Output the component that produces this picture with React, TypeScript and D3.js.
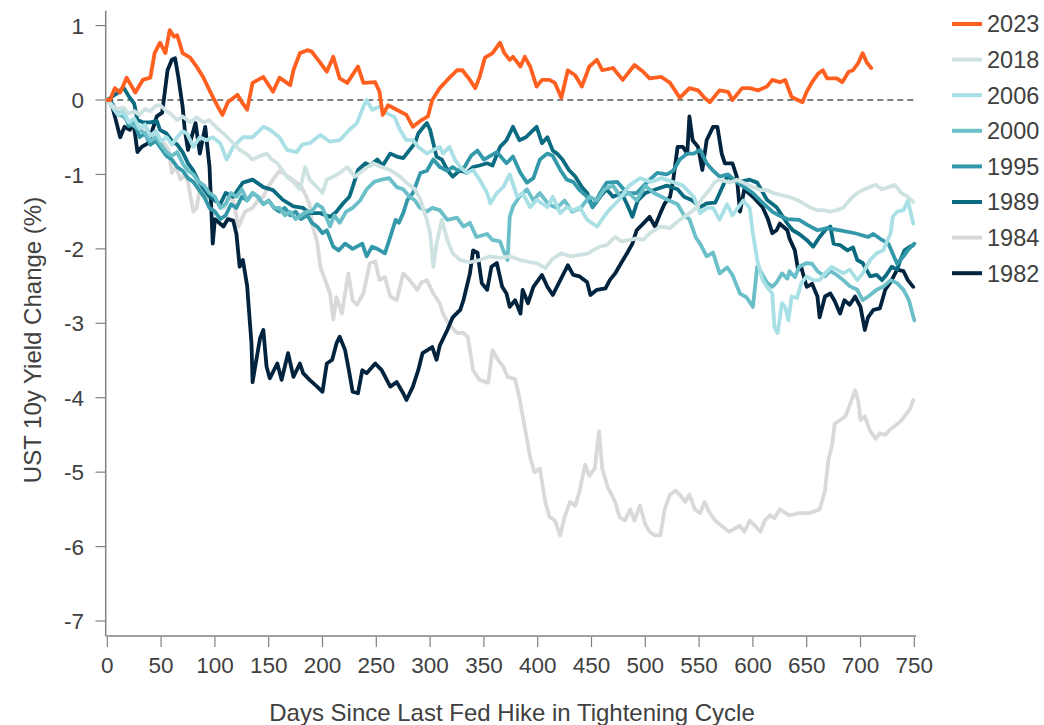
import React from "react";
import * as d3 from "d3";

type Pt = [number, number];

const s2023: Pt[] = [[0,0],[2.5,0],[7,0.16],[12,0.1],[18,0.3],[22,0.2],[26,0.1],[33,0.27],[40,0.3],[44,0.63],[49,0.77],[54,0.63],[58,0.94],[62,0.85],[65,0.87],[70,0.63],[77,0.57],[83,0.45],[89,0.31],[95,0.13],[102,-0.07],[107,-0.2],[112,-0.03],[121,0.07],[126,-0.05],[130,-0.13],[135,0.23],[145,0.31],[154,0.11],[160,0.3],[170,0.2],[173,0.4],[179,0.63],[186,0.67],[190,0.65],[198,0.5],[204,0.38],[210,0.58],[216,0.29],[223,0.23],[233,0.45],[238,0.23],[249,0.24],[253,0.11],[256,-0.2],[261,-0.07],[269,-0.13],[278,-0.2],[284,-0.36],[292,-0.27],[298,-0.22],[302,0],[309,0.16],[316,0.27],[325,0.4],[330,0.4],[337,0.27],[342,0.16],[346,0.31],[351,0.57],[358,0.63],[365,0.77],[369,0.63],[374,0.54],[377,0.58],[384,0.45],[388,0.58],[393,0.45],[399,0.18],[404,0.27],[411,0.27],[416,0.23],[422,0.03],[428,0.4],[435,0.33],[441,0.18],[448,0.45],[455,0.54],[460,0.4],[470,0.43],[479,0.27],[490,0.47],[498,0.38],[504,0.29],[515,0.31],[523,0.23],[532,0.03],[541,0.16],[549,0.13],[555,0.03],[560,-0.03],[569,0.13],[577,0.11],[581,0],[590,0.16],[597,0.16],[605,0.13],[613,0.18],[618,0.27],[625,0.24],[630,0.27],[636,0.04],[646,-0.03],[650,0.11],[655,0.24],[661,0.36],[665,0.4],[669,0.29],[678,0.29],[683,0.24],[689,0.38],[693,0.4],[698,0.5],[702,0.63],[706,0.5],[710,0.43]];

const s2018: Pt[] = [[0,0],[5,-0.08],[10,-0.12],[15,-0.1],[20,-0.18],[25,-0.15],[30,-0.2],[35,-0.12],[40,-0.15],[45,-0.08],[49,-0.07],[55,-0.15],[60,-0.2],[65,-0.27],[70,-0.22],[77,-0.3],[83,-0.23],[89,-0.3],[95,-0.27],[102,-0.38],[108,-0.45],[115,-0.55],[123,-0.67],[129,-0.72],[135,-0.8],[142,-0.75],[148,-0.72],[153,-0.8],[158,-0.85],[163,-0.95],[167,-1.03],[173,-1.1],[179,-1.2],[184,-0.9],[188,-1.07],[195,-1.17],[200,-1.25],[204,-1.07],[210,-1.03],[216,-0.98],[223,-0.9],[230,-1.03],[238,-0.94],[247,-0.85],[255,-0.9],[263,-0.94],[272,-1.03],[278,-1.11],[286,-1.2],[291,-1.34],[297,-1.61],[300,-1.79],[303,-2.24],[306,-1.93],[311,-1.61],[316,-1.88],[321,-2.06],[328,-2.15],[337,-2.18],[346,-2.15],[356,-2.1],[365,-2.12],[374,-2.1],[384,-2.15],[393,-2.18],[399,-2.19],[407,-2.26],[414,-2.13],[422,-2.06],[430,-2.1],[439,-2.08],[447,-2.06],[451,-2.02],[458,-1.97],[464,-1.95],[472,-1.84],[478,-1.9],[486,-1.88],[492,-1.86],[498,-1.88],[504,-1.79],[514,-1.7],[523,-1.72],[532,-1.61],[541,-1.52],[548,-1.44],[553,-1.32],[560,-1.2],[564,-1.11],[569,-1.07],[579,-1.11],[585,-1.07],[591,-1.11],[600,-1.17],[607,-1.21],[613,-1.21],[619,-1.25],[627,-1.28],[633,-1.3],[641,-1.34],[647,-1.39],[653,-1.44],[660,-1.48],[665,-1.48],[672,-1.5],[678,-1.48],[684,-1.45],[690,-1.34],[697,-1.25],[702,-1.21],[709,-1.17],[714,-1.14],[720,-1.2],[726,-1.17],[732,-1.14],[738,-1.25],[744,-1.3],[749,-1.37]];

const s2006: Pt[] = [[0,0],[5,-0.1],[10,-0.2],[15,-0.15],[20,-0.3],[25,-0.25],[30,-0.38],[35,-0.33],[40,-0.48],[45,-0.42],[50,-0.55],[55,-0.5],[60,-0.6],[65,-0.5],[70,-0.42],[74,-0.45],[80,-0.63],[86,-0.5],[92,-0.54],[98,-0.5],[105,-0.58],[111,-0.8],[117,-0.63],[126,-0.5],[135,-0.5],[145,-0.36],[151,-0.4],[160,-0.5],[167,-0.67],[176,-0.7],[181,-0.6],[188,-0.58],[198,-0.47],[207,-0.56],[216,-0.54],[225,-0.4],[232,-0.31],[238,-0.09],[241,0],[246,-0.13],[253,-0.09],[260,-0.18],[267,-0.23],[272,-0.4],[278,-0.54],[284,-0.54],[289,-0.63],[297,-0.72],[303,-0.67],[309,-0.63],[312,-0.72],[318,-0.63],[323,-0.8],[328,-0.9],[334,-0.98],[340,-0.94],[346,-1.07],[353,-1.25],[356,-1.39],[362,-1.25],[368,-1.17],[374,-1.0],[381,-1.3],[386,-1.25],[393,-1.44],[399,-1.34],[409,-1.44],[414,-1.3],[421,-1.52],[427,-1.44],[433,-1.48],[439,-1.44],[446,-1.61],[455,-1.7],[465,-1.5],[475,-1.35],[485,-1.15],[495,-1.05],[505,-1.1],[515,-1.05],[525,-1.1],[535,-1.15],[545,-1.3],[551,-1.52],[557,-1.45],[563,-1.45],[569,-1.61],[576,-1.4],[581,-1.55],[591,-1.35],[597,-1.45],[600,-1.79],[604,-2.15],[609,-2.42],[613,-2.51],[618,-2.6],[620,-3.05],[623,-3.13],[627,-2.73],[630,-2.78],[633,-2.96],[636,-2.64],[641,-2.66],[645,-2.46],[650,-2.37],[656,-2.42],[662,-2.42],[667,-2.33],[673,-2.24],[678,-2.28],[684,-2.33],[690,-2.28],[697,-2.42],[702,-2.33],[709,-2.15],[715,-2.06],[721,-2.02],[728,-1.79],[730,-1.57],[734,-1.5],[740,-1.48],[744,-1.35],[749,-1.66]];

const s2000: Pt[] = [[0,0],[5,-0.1],[10,-0.2],[15,-0.22],[20,-0.3],[25,-0.35],[30,-0.4],[35,-0.45],[40,-0.55],[45,-0.5],[50,-0.6],[55,-0.7],[60,-0.75],[65,-0.7],[70,-0.85],[75,-0.95],[80,-1.0],[85,-1.1],[90,-1.15],[95,-1.25],[100,-1.3],[105,-1.45],[110,-1.4],[115,-1.25],[120,-1.3],[125,-1.2],[130,-1.35],[135,-1.25],[140,-1.3],[145,-1.4],[150,-1.35],[155,-1.45],[160,-1.45],[165,-1.55],[170,-1.5],[175,-1.6],[180,-1.55],[185,-1.5],[190,-1.5],[195,-1.4],[200,-1.45],[207,-1.7],[211,-1.55],[216,-1.65],[222,-1.5],[228,-1.45],[235,-1.35],[241,-1.2],[248,-1.1],[255,-1.07],[262,-1.05],[269,-1.17],[275,-1.2],[281,-1.3],[286,-1.35],[290,-1.44],[297,-1.5],[302,-1.45],[309,-1.48],[316,-1.61],[325,-1.58],[331,-1.7],[337,-1.65],[343,-1.84],[353,-1.8],[358,-1.88],[365,-1.9],[368,-2.02],[372,-2.15],[374,-1.57],[377,-1.43],[383,-1.3],[390,-1.2],[396,-1.35],[402,-1.25],[410,-1.4],[418,-1.45],[425,-1.35],[432,-1.5],[440,-1.45],[448,-1.3],[455,-1.35],[462,-1.2],[470,-1.15],[477,-1.3],[485,-1.25],[492,-1.35],[500,-1.15],[508,-1.25],[515,-1.3],[522,-1.35],[530,-1.4],[536,-1.55],[541,-1.6],[547,-1.85],[551,-1.93],[557,-2.1],[563,-2.05],[569,-2.33],[576,-2.25],[581,-2.35],[588,-2.6],[594,-2.65],[600,-2.78],[604,-2.24],[607,-2.3],[613,-2.45],[618,-2.51],[622,-2.45],[627,-2.33],[632,-2.4],[634,-2.3],[639,-2.38],[643,-2.24],[650,-2.19],[655,-2.2],[660,-2.3],[667,-2.37],[672,-2.3],[678,-2.35],[684,-2.42],[690,-2.5],[697,-2.55],[702,-2.69],[709,-2.62],[715,-2.55],[721,-2.51],[728,-2.42],[734,-2.46],[740,-2.55],[745,-2.69],[750,-2.96]];

const s1995: Pt[] = [[0,0],[5,-0.05],[10,-0.2],[15,-0.15],[20,-0.35],[25,-0.3],[30,-0.5],[35,-0.45],[40,-0.6],[45,-0.55],[50,-0.65],[55,-0.75],[60,-0.8],[65,-0.9],[70,-0.95],[75,-1.05],[80,-1.1],[85,-1.2],[90,-1.3],[95,-1.45],[100,-1.5],[105,-1.6],[110,-1.55],[115,-1.4],[120,-1.45],[125,-1.3],[130,-1.35],[135,-1.25],[140,-1.3],[145,-1.4],[150,-1.35],[155,-1.45],[160,-1.5],[165,-1.45],[170,-1.55],[175,-1.5],[180,-1.6],[186,-1.55],[190,-1.65],[195,-1.7],[200,-1.79],[204,-1.75],[210,-1.97],[215,-2.02],[221,-1.93],[228,-2.0],[237,-1.93],[241,-2.1],[246,-1.97],[251,-2.0],[258,-2.06],[263,-1.84],[268,-1.61],[271,-1.65],[275,-1.52],[279,-1.34],[284,-1.25],[291,-0.98],[297,-0.95],[303,-0.8],[309,-0.9],[316,-0.95],[321,-0.9],[326,-0.95],[332,-0.9],[338,-0.75],[344,-0.68],[350,-0.8],[356,-0.75],[362,-0.7],[368,-0.8],[371,-0.85],[377,-0.76],[384,-0.98],[390,-1.11],[396,-1.05],[402,-0.8],[409,-0.72],[414,-0.75],[421,-0.94],[427,-1.07],[433,-1.1],[439,-1.21],[446,-1.3],[451,-1.44],[458,-1.25],[464,-1.11],[474,-1.1],[483,-1.25],[492,-1.25],[502,-1.1],[511,-0.98],[520,-1.0],[526,-0.95],[532,-0.8],[539,-0.72],[545,-0.72],[551,-0.67],[557,-0.85],[563,-0.95],[569,-1.03],[577,-1.0],[585,-1.1],[592,-1.17],[600,-1.25],[609,-1.38],[618,-1.5],[624,-1.55],[632,-1.6],[643,-1.61],[651,-1.68],[660,-1.75],[669,-1.72],[681,-1.75],[695,-1.79],[707,-1.84],[712,-1.8],[720,-1.88],[726,-1.93],[734,-2.2],[740,-2.1],[745,-2.0],[750,-1.93]];

const s1989: Pt[] = [[0,0],[5,0.05],[10,0.1],[15,0.17],[20,0.05],[25,-0.05],[28,-0.27],[33,-0.3],[40,-0.3],[46,-0.28],[49,-0.4],[55,-0.45],[60,-0.55],[65,-0.6],[70,-0.7],[75,-0.85],[80,-0.95],[85,-1.1],[90,-1.2],[95,-1.3],[100,-1.35],[105,-1.4],[110,-1.25],[117,-1.3],[126,-1.11],[135,-1.07],[145,-1.17],[154,-1.21],[163,-1.34],[173,-1.43],[182,-1.45],[188,-1.52],[198,-1.52],[207,-1.57],[213,-1.5],[219,-1.39],[225,-1.3],[228,-1.17],[233,-0.94],[240,-0.85],[244,-0.88],[251,-0.8],[256,-0.88],[263,-0.72],[269,-0.76],[275,-0.78],[281,-0.67],[286,-0.58],[289,-0.45],[294,-0.36],[297,-0.31],[300,-0.4],[303,-0.58],[306,-0.76],[311,-0.8],[316,-0.94],[321,-1.03],[328,-0.94],[334,-0.98],[340,-0.9],[346,-0.88],[353,-0.85],[358,-0.88],[365,-0.63],[371,-0.54],[377,-0.36],[383,-0.54],[389,-0.5],[396,-0.4],[399,-0.36],[404,-0.58],[409,-0.5],[414,-0.68],[418,-0.72],[423,-0.8],[429,-0.94],[435,-1.03],[441,-1.17],[446,-1.25],[451,-1.44],[458,-1.3],[464,-1.2],[470,-1.3],[478,-1.25],[483,-1.4],[488,-1.57],[493,-1.35],[500,-1.25],[510,-1.2],[520,-1.15],[530,-1.2],[536,-1.3],[544,-1.35],[551,-1.44],[557,-1.39],[565,-1.38],[576,-1.03],[588,-1.1],[597,-1.07],[604,-1.11],[613,-1.34],[622,-1.44],[632,-1.66],[637,-1.75],[643,-1.8],[650,-1.88],[656,-1.97],[662,-1.84],[667,-1.75],[672,-1.7],[675,-1.93],[681,-1.95],[688,-2.02],[693,-1.98],[697,-2.15],[702,-2.19],[709,-2.37],[715,-2.35],[720,-2.42],[724,-2.35],[729,-2.24],[734,-2.28],[737,-2.15],[741,-2.02],[746,-1.97],[749,-1.95]];

const s1984: Pt[] = [[0,0],[5,-0.1],[10,-0.2],[15,-0.15],[20,-0.3],[25,-0.28],[30,-0.4],[35,-0.35],[40,-0.5],[45,-0.45],[50,-0.55],[54,-0.6],[57,-0.67],[60,-0.98],[64,-0.9],[68,-1.07],[72,-1.0],[75,-1.1],[78,-1.35],[80,-1.5],[83,-1.45],[86,-1.2],[92,-1.3],[100,-1.35],[108,-1.45],[113,-1.3],[117,-1.35],[122,-1.7],[128,-1.5],[135,-1.45],[140,-1.35],[145,-1.3],[150,-1.15],[155,-1.05],[160,-0.95],[165,-1.0],[170,-1.05],[175,-1.1],[180,-1.15],[185,-1.3],[188,-1.4],[191,-1.7],[195,-1.9],[198,-2.24],[202,-2.4],[207,-2.6],[210,-2.95],[213,-2.65],[218,-2.87],[224,-2.33],[228,-2.69],[232,-2.75],[238,-2.6],[244,-2.19],[249,-2.17],[253,-2.42],[258,-2.38],[263,-2.64],[269,-2.69],[275,-2.33],[281,-2.42],[288,-2.55],[292,-2.45],[297,-2.42],[303,-2.6],[309,-2.73],[312,-2.87],[317,-3.0],[320,-3.05],[325,-3.13],[331,-3.13],[335,-3.18],[340,-3.63],[346,-3.76],[354,-3.8],[358,-3.36],[363,-3.49],[368,-3.58],[372,-3.72],[379,-3.75],[383,-4.0],[388,-4.4],[393,-4.8],[397,-5.0],[402,-4.95],[407,-5.4],[411,-5.6],[416,-5.65],[421,-5.85],[425,-5.6],[430,-5.4],[435,-5.45],[439,-5.25],[444,-4.9],[448,-5.05],[453,-4.95],[457,-4.45],[460,-4.95],[465,-5.2],[472,-5.4],[476,-5.6],[481,-5.65],[486,-5.5],[490,-5.65],[495,-5.45],[500,-5.7],[504,-5.8],[509,-5.85],[514,-5.85],[518,-5.5],[523,-5.3],[528,-5.25],[532,-5.3],[537,-5.4],[541,-5.3],[546,-5.5],[551,-5.55],[555,-5.4],[560,-5.55],[565,-5.65],[569,-5.7],[578,-5.8],[588,-5.72],[592,-5.8],[597,-5.65],[602,-5.72],[607,-5.8],[611,-5.65],[616,-5.58],[620,-5.62],[625,-5.5],[634,-5.58],[643,-5.55],[653,-5.55],[662,-5.5],[667,-5.25],[670,-4.85],[674,-4.6],[676,-4.35],[681,-4.3],[686,-4.25],[690,-4.1],[695,-3.9],[698,-4.05],[700,-4.3],[704,-4.25],[709,-4.45],[714,-4.55],[718,-4.48],[723,-4.5],[728,-4.42],[732,-4.38],[737,-4.32],[741,-4.25],[746,-4.15],[749,-4.03]];

const s1982: Pt[] = [[0,0],[3,0],[7,-0.22],[12,-0.5],[16,-0.36],[21,-0.4],[24,-0.27],[28,-0.7],[32,-0.63],[38,-0.58],[46,-0.22],[51,-0.17],[56,0.4],[60,0.54],[63,0.56],[66,0.31],[70,-0.09],[72,-0.4],[75,-0.67],[82,-0.31],[86,-0.72],[91,-0.36],[95,-0.9],[98,-1.93],[100,-1.6],[108,-1.7],[112,-1.6],[117,-1.62],[120,-1.8],[123,-2.24],[126,-2.15],[130,-2.5],[131,-2.7],[134,-3.27],[135,-3.79],[139,-3.45],[142,-3.2],[145,-3.09],[148,-3.58],[151,-3.74],[158,-3.54],[162,-3.76],[168,-3.4],[173,-3.72],[179,-3.54],[182,-3.67],[188,-3.76],[195,-3.85],[200,-3.92],[204,-3.54],[209,-3.49],[213,-3.27],[216,-3.18],[221,-3.36],[225,-3.67],[228,-3.92],[233,-3.94],[237,-3.63],[241,-3.67],[249,-3.54],[255,-3.63],[263,-3.85],[269,-3.79],[275,-3.94],[278,-4.03],[284,-3.85],[289,-3.63],[293,-3.4],[302,-3.32],[306,-3.49],[309,-3.3],[316,-3.09],[321,-2.92],[328,-2.82],[331,-2.69],[337,-2.33],[340,-2.02],[344,-2.05],[348,-2.46],[353,-2.55],[357,-2.24],[362,-2.19],[367,-2.51],[371,-2.6],[374,-2.78],[379,-2.69],[384,-2.87],[386,-2.55],[391,-2.73],[396,-2.51],[404,-2.35],[409,-2.51],[414,-2.62],[421,-2.42],[428,-2.22],[433,-2.35],[439,-2.37],[446,-2.45],[449,-2.62],[455,-2.55],[463,-2.53],[467,-2.42],[472,-2.33],[478,-2.18],[483,-2.06],[488,-1.93],[492,-1.75],[498,-1.66],[504,-1.57],[509,-1.7],[514,-1.52],[518,-1.39],[523,-1.3],[526,-1.07],[530,-0.63],[535,-0.63],[539,-0.72],[541,-0.22],[544,-0.54],[549,-0.63],[553,-0.94],[557,-0.54],[563,-0.36],[567,-0.36],[571,-0.72],[574,-0.85],[581,-0.85],[585,-1.03],[588,-1.5],[592,-1.2],[600,-1.3],[609,-1.44],[614,-1.6],[618,-1.79],[622,-1.75],[625,-1.66],[632,-1.75],[634,-1.86],[639,-2.02],[642,-2.28],[645,-2.25],[650,-2.51],[655,-2.47],[660,-2.64],[662,-2.92],[667,-2.64],[672,-2.6],[676,-2.7],[681,-2.87],[685,-2.69],[690,-2.75],[695,-2.64],[700,-2.78],[704,-3.09],[707,-2.92],[712,-2.82],[718,-2.8],[723,-2.55],[729,-2.42],[734,-2.28],[740,-2.3],[744,-2.42],[749,-2.51]];

const legendLabels = ["2023", "2018", "2006", "2000", "1995", "1989", "1984", "1982"];
const legendColors = ["#FF5F1F", "#CFE2E2", "#A8E0E6", "#6BBFC8", "#3399AA", "#0B6B80", "#D9D9D9", "#01233E"];
const seriesData: Pt[][] = [s2023, s2018, s2006, s2000, s1995, s1989, s1984, s1982];
// drawing order (bottom to top)
const drawOrder = ["1984", "1982", "1989", "1995", "2000", "2006", "2018", "2023"];

const xTicks = [0, 50, 100, 150, 200, 250, 300, 350, 400, 450, 500, 550, 600, 650, 700, 750];
const yTicks = [1, 0, -1, -2, -3, -4, -5, -6, -7];

const FONT = "'Liberation Sans', Arial, sans-serif";
const TEXT = "#404040";

export default function App() {
  const x = d3.scaleLinear().domain([0, 750]).range([107.3, 914.3]);
  const y = d3.scaleLinear().domain([-7.2, 1.2]).range([635.9, 10.7]);
  const line = d3
    .line<Pt>()
    .x((d) => x(d[0]))
    .y((d) => y(d[1]));

  return (
    <div style={{ position: "absolute", left: 0, top: 0 }}>
      <svg width={1044} height={725} style={{ display: "block", background: "#fff" }}>
        {/* axes */}
        <line x1={105.7} x2={105.7} y1={y(1.2)} y2={636} stroke="#808080" strokeWidth={1.5} />
        <line x1={105.7} x2={916} y1={636} y2={636} stroke="#808080" strokeWidth={1.5} />
        {yTicks.map((t) => (
          <g key={"y" + t}>
            <line x1={95.5} x2={105.7} y1={y(t)} y2={y(t)} stroke="#808080" strokeWidth={1.2} />
            <text
              x={84}
              y={y(t)}
              dy="0.36em"
              textAnchor="end"
              fontFamily={FONT}
              fontSize={22.5}
              fill={TEXT}
            >
              {t}
            </text>
          </g>
        ))}
        {xTicks.map((t) => (
          <g key={"x" + t}>
            <line x1={x(t)} x2={x(t)} y1={637} y2={647} stroke="#808080" strokeWidth={1.2} />
            <text
              x={x(t)}
              y={673}
              textAnchor="middle"
              fontFamily={FONT}
              fontSize={22.5}
              fill={TEXT}
            >
              {t}
            </text>
          </g>
        ))}
        {/* zero line */}
        <line
          x1={x(0)}
          x2={x(750)}
          y1={y(0)}
          y2={y(0)}
          stroke="#808080"
          strokeWidth={2}
          strokeDasharray="6,4"
        />
        {/* series */}
        {drawOrder.map((name) => {
          const i = legendLabels.indexOf(name);
          return (
            <path
              key={name}
              d={line(seriesData[i]) || ""}
              fill="none"
              stroke={legendColors[i]}
              strokeWidth={3.8}
              strokeLinejoin="round"
              strokeLinecap="round"
            />
          );
        })}
        {/* legend */}
        {legendLabels.map((name, i) => {
          const ly = 24 + i * 35.6;
          return (
            <g key={"lg" + name}>
              <line x1={952} x2={982} y1={ly} y2={ly} stroke={legendColors[i]} strokeWidth={4} />
              <text
                x={987}
                y={ly}
                dy="0.36em"
                fontFamily={FONT}
                fontSize={23.5}
                fill={TEXT}
              >
                {name}
              </text>
            </g>
          );
        })}
        {/* axis titles */}
        <text
          x={512}
          y={721}
          textAnchor="middle"
          fontFamily={FONT}
          fontSize={24}
          fill={TEXT}
        >
          Days Since Last Fed Hike in Tightening Cycle
        </text>
        <text
          transform="translate(41,340) rotate(-90)"
          textAnchor="middle"
          fontFamily={FONT}
          fontSize={24}
          fill={TEXT}
        >
          UST 10y Yield Change (%)
        </text>
      </svg>
    </div>
  );
}
